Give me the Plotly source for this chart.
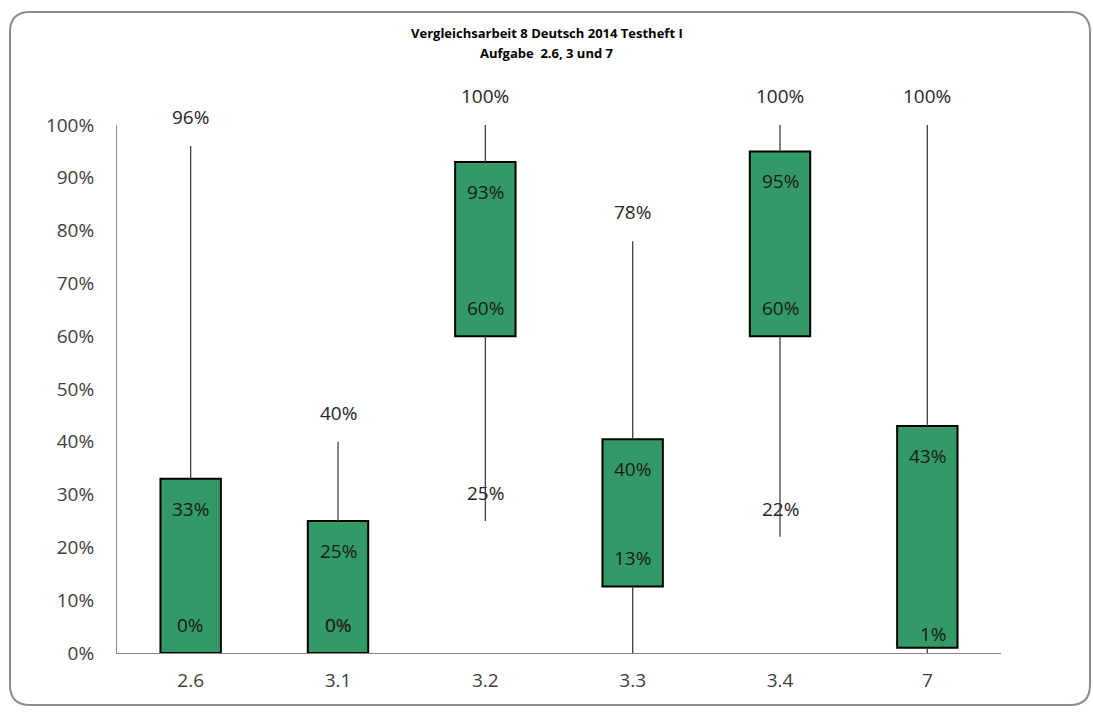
import plotly.graph_objects as go

# Item statistics per task: whisker range (low-high) and box (lower-upper)
categories = ["2.6", "3.1", "3.2", "3.3", "3.4", "7"]
high = [0.96, 0.40, 1.00, 0.78, 1.00, 1.00]
low = [0.00, 0.00, 0.25, 0.00, 0.22, 0.00]
box_upper = [0.33, 0.25, 0.93, 0.405, 0.95, 0.43]
box_lower = [0.00, 0.00, 0.60, 0.126, 0.60, 0.01]
show_low_label = [False, True, True, False, True, False]
y_ticks = [0.0, 0.1, 0.2, 0.3, 0.4, 0.5, 0.6, 0.7, 0.8, 0.9, 1.0]

# Label placement (pixel offsets)
lower_label_shift = [28, 28, 28, 28, 28, 14]
lower_label_xshift = [0, 0, 0, 0, 0, 6]

FONT = "Open Sans, Lato, sans-serif"
GREEN = "#339966"

fig = go.Figure()

# Whiskers: segments below and above each box
wx, wy = [], []
for c, lo, hi, bl, bu in zip(categories, low, high, box_lower, box_upper):
    if bl > lo:
        wx += [c, c, None]
        wy += [lo, bl, None]
    if hi > bu:
        wx += [c, c, None]
        wy += [bu, hi, None]
fig.add_trace(go.Scatter(
    x=wx, y=wy, mode="lines",
    line=dict(color="#404040", width=1.3),
    hoverinfo="skip", showlegend=False, cliponaxis=False,
))

# Boxes
fig.add_trace(go.Bar(
    x=categories,
    y=[u - l for u, l in zip(box_upper, box_lower)],
    base=box_lower,
    width=0.41,
    marker=dict(color=GREEN, line=dict(color="black", width=2)),
    showlegend=False, hoverinfo="skip",
))

annotations = []
label_font = dict(family=FONT, size=19, color="#262626")
inner_font = dict(family=FONT, size=19, color="#1a1a1a")
for i, c in enumerate(categories):
    # annotations on a category axis are positioned by category index
    annotations.append(dict(x=i, y=high[i], text=f"{high[i]:.0%}", showarrow=False,
                            yshift=29, font=label_font))
    annotations.append(dict(x=i, y=box_upper[i], text=f"{box_upper[i]:.0%}", showarrow=False,
                            yshift=-30, font=inner_font))
    annotations.append(dict(x=i, y=box_lower[i], text=f"{box_lower[i]:.0%}", showarrow=False,
                            yshift=lower_label_shift[i], xshift=lower_label_xshift[i],
                            font=inner_font))
    if show_low_label[i]:
        annotations.append(dict(x=i, y=low[i], text=f"{low[i]:.0%}", showarrow=False,
                                yshift=28, font=label_font))

# Title
annotations.append(dict(
    xref="paper", yref="paper", x=0.486, y=(653 - 33) / 528, yanchor="middle", showarrow=False,
    text="<b>Vergleichsarbeit 8 Deutsch 2014 Testheft I</b>",
    font=dict(family=FONT, size=13, color="black")))
annotations.append(dict(
    xref="paper", yref="paper", x=0.486, y=(653 - 53) / 528, yanchor="middle", showarrow=False,
    text="<b>Aufgabe  2.6, 3 und 7</b>",
    font=dict(family=FONT, size=13, color="black")))

# Rounded chart border (paper units derived from pixel geometry)
pw, ph = 884.0, 528.0
x0, x1 = (10 - 117) / pw, (1090 - 117) / pw
y0, y1 = (653 - 705) / ph, (653 - 12) / ph
rx, ry = 20 / pw, 20 / ph
path = (f"M {x0 + rx},{y1} L {x1 - rx},{y1} Q {x1},{y1} {x1},{y1 - ry} "
        f"L {x1},{y0 + ry} Q {x1},{y0} {x1 - rx},{y0} "
        f"L {x0 + rx},{y0} Q {x0},{y0} {x0},{y0 + ry} "
        f"L {x0},{y1 - ry} Q {x0},{y1} {x0 + rx},{y1} Z")

fig.update_layout(
    width=1093, height=717,
    margin=dict(l=117, r=92, t=125, b=64),
    paper_bgcolor="white", plot_bgcolor="white",
    annotations=annotations,
    shapes=[dict(type="path", xref="paper", yref="paper", path=path,
                 line=dict(color="#8c8c8c", width=2), layer="below")],
    xaxis=dict(
        type="category", range=[-0.5, 5.5],
        showline=True, linecolor="#868686", linewidth=1,
        showgrid=False, ticks="", ticklabelstandoff=10,
        tickfont=dict(family=FONT, size=19, color="#404040"),
    ),
    yaxis=dict(
        range=[0, 1], tickvals=y_ticks, tickformat=".0%",
        showline=True, linecolor="#868686", linewidth=1,
        showgrid=False, zeroline=False, ticks="", ticklabelstandoff=18,
        tickfont=dict(family=FONT, size=19, color="#404040"),
    ),
)

fig.write_html("out.html")
